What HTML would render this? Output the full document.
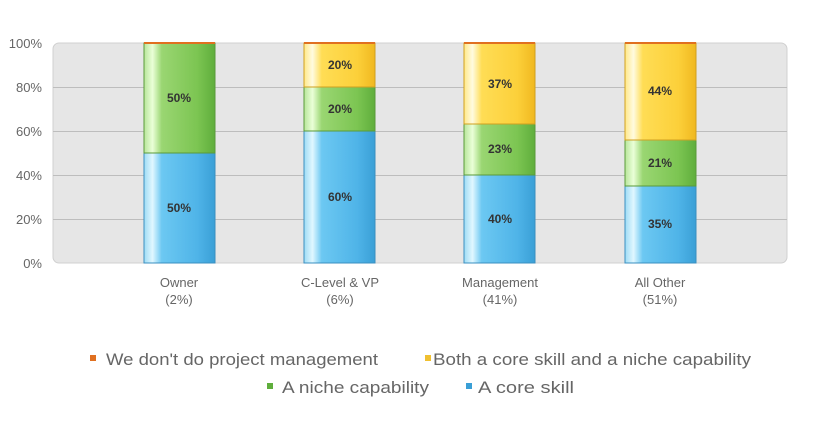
<!DOCTYPE html>
<html><head><style>body{margin:0;background:#fff;font-family:"Liberation Sans",sans-serif}</style></head><body>
<svg width="820" height="416" xmlns="http://www.w3.org/2000/svg" font-family="Liberation Sans, sans-serif">
<defs>
<linearGradient id="b" x1="0" x2="1"><stop offset="0" stop-color="#9fdcf5"/><stop offset="0.12" stop-color="#e0f7ff"/><stop offset="0.25" stop-color="#6cc8f2"/><stop offset="0.75" stop-color="#4fb4e8"/><stop offset="1" stop-color="#3a9fd6"/></linearGradient>
<linearGradient id="g" x1="0" x2="1"><stop offset="0" stop-color="#b8e59a"/><stop offset="0.12" stop-color="#eaffd8"/><stop offset="0.25" stop-color="#9ad672"/><stop offset="0.75" stop-color="#7cc552"/><stop offset="1" stop-color="#5fae3c"/></linearGradient>
<linearGradient id="y" x1="0" x2="1"><stop offset="0" stop-color="#ffe98a"/><stop offset="0.12" stop-color="#fffbe0"/><stop offset="0.25" stop-color="#ffdd55"/><stop offset="0.75" stop-color="#fcd03a"/><stop offset="1" stop-color="#f0b820"/></linearGradient>
</defs>
<rect x="53" y="43" width="734" height="220" rx="6" fill="#e6e6e6" stroke="#d0d0d0"/>
<g stroke="#bdbdbd" stroke-width="1">
<line x1="53" x2="787" y1="87.5" y2="87.5"/><line x1="53" x2="787" y1="131.5" y2="131.5"/><line x1="53" x2="787" y1="175.5" y2="175.5"/><line x1="53" x2="787" y1="219.5" y2="219.5"/>
</g>
<g font-size="13" fill="#666" text-anchor="end">
<text x="42" y="48">100%</text><text x="42" y="92">80%</text><text x="42" y="136">60%</text><text x="42" y="180">40%</text><text x="42" y="224">20%</text><text x="42" y="268">0%</text>
</g>
<g stroke-width="1">
<rect x="144" y="153" width="71" height="110" fill="url(#b)" stroke="#3a8fc0"/>
<rect x="144" y="43" width="71" height="110" fill="url(#g)" stroke="#5a9a3a"/>
<rect x="144" y="42" width="71" height="2" fill="#e07020"/>
<rect x="304" y="131" width="71" height="132" fill="url(#b)" stroke="#3a8fc0"/>
<rect x="304" y="87" width="71" height="44" fill="url(#g)" stroke="#5a9a3a"/>
<rect x="304" y="43" width="71" height="44" fill="url(#y)" stroke="#d0a020"/>
<rect x="304" y="42" width="71" height="2" fill="#e07020"/>
<rect x="464" y="175" width="71" height="88" fill="url(#b)" stroke="#3a8fc0"/>
<rect x="464" y="124" width="71" height="51" fill="url(#g)" stroke="#5a9a3a"/>
<rect x="464" y="43" width="71" height="81" fill="url(#y)" stroke="#d0a020"/>
<rect x="464" y="42" width="71" height="2" fill="#e07020"/>
<rect x="625" y="186" width="71" height="77" fill="url(#b)" stroke="#3a8fc0"/>
<rect x="625" y="140" width="71" height="46" fill="url(#g)" stroke="#5a9a3a"/>
<rect x="625" y="43" width="71" height="97" fill="url(#y)" stroke="#d0a020"/>
<rect x="625" y="42" width="71" height="2" fill="#e07020"/>
</g>
<g font-size="12" font-weight="bold" fill="#333" text-anchor="middle">
<text x="179" y="102">50%</text><text x="179" y="212">50%</text>
<text x="340" y="69">20%</text><text x="340" y="113">20%</text><text x="340" y="201">60%</text>
<text x="500" y="88">37%</text><text x="500" y="153">23%</text><text x="500" y="223">40%</text>
<text x="660" y="95">44%</text><text x="660" y="167">21%</text><text x="660" y="228">35%</text>
</g>
<g font-size="13" fill="#666" text-anchor="middle">
<text x="179" y="287">Owner</text><text x="179" y="304">(2%)</text>
<text x="340" y="287">C-Level &amp; VP</text><text x="340" y="304">(6%)</text>
<text x="500" y="287">Management</text><text x="500" y="304">(41%)</text>
<text x="660" y="287">All Other</text><text x="660" y="304">(51%)</text>
</g>
<g font-size="17" fill="#666">
<rect x="90" y="355" width="6" height="6" fill="#e07020"/><text x="106" y="365" textLength="272" lengthAdjust="spacingAndGlyphs">We don't do project management</text>
<rect x="425" y="355" width="6" height="6" fill="#f0c030"/><text x="433" y="365" textLength="318" lengthAdjust="spacingAndGlyphs">Both a core skill and a niche capability</text>
<rect x="267" y="383" width="6" height="6" fill="#5fae3c"/><text x="282" y="393" textLength="147" lengthAdjust="spacingAndGlyphs">A niche capability</text>
<rect x="466" y="383" width="6" height="6" fill="#3a9fd6"/><text x="478" y="393" textLength="96" lengthAdjust="spacingAndGlyphs">A core skill</text>
</g>
</svg>
</body></html>
